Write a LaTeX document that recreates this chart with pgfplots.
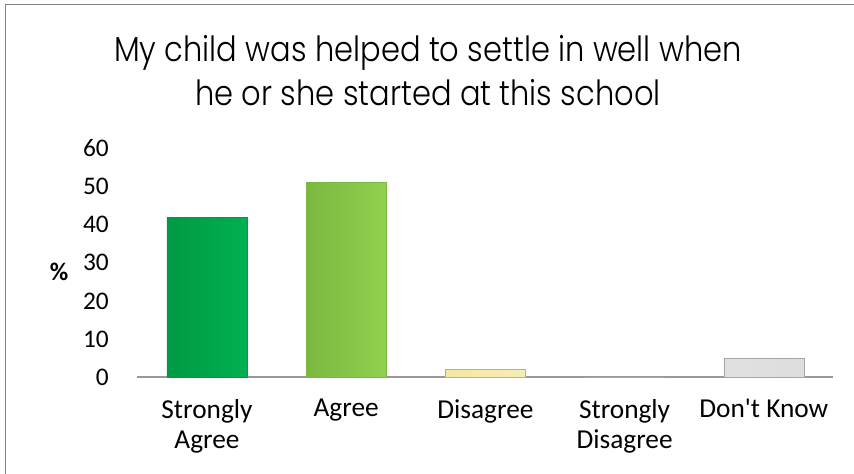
\documentclass[border=0pt]{standalone}
\usepackage{fontspec}
\setmainfont{Carlito}
\newfontfamily\titlefont{Poppins Light}[FakeStretch=0.88]
\usepackage{pgfplots}
\pgfplotsset{compat=1.18}

\definecolor{sagree}{HTML}{00B050}
\definecolor{sagreedk}{HTML}{009A44}
\definecolor{agree}{HTML}{92D050}
\definecolor{agreedk}{HTML}{7AB840}
\definecolor{disag}{HTML}{F3E8A2}
\definecolor{disagdk}{HTML}{C9B64A}
\definecolor{dk}{HTML}{DDDDDD}
\definecolor{dkdk}{HTML}{A6A6A6}

\begin{document}
\begin{tikzpicture}
% fixed page: 854 x 474 px at 0.75pt per px, axis box corner at (0,0)
\useasboundingbox (-103.05pt,-72.525pt) rectangle (537.45pt,282.975pt);
\draw[color=black!50, line width=1.1pt] (-98.9pt,-72.525pt) -- (-98.9pt,279.6pt) -- (537.45pt,279.6pt);
\begin{axis}[
  scale only axis,
  width=522pt, height=171.75pt,
  ybar, bar width=60pt, bar shift=0pt,
  xmin=-0.5, xmax=4.5,
  ymin=0, ymax=60,
  ytick={0,10,...,60},
  xtick={0,1,2,3,4},
  xticklabels={Strongly\\Agree, Agree, Disagree, Strongly\\Disagree, Don\textquotesingle t Know},
  /pgf/number format/assume math mode=true,
  x tick label style={align=center, font=\fontsize{20.5}{22.5}\selectfont, yshift=-13pt},
  y tick label style={font=\fontsize{19}{22}\selectfont, xshift=-18pt},
  major tick length=0pt,
  axis x line*=bottom,
  axis y line*=left,
  y axis line style={draw=none},
  x axis line style={draw=black!40, line width=1.2pt, -},
  ylabel={\textbf{\%}},
  ylabel style={rotate=-90, font=\fontsize{19}{22}\selectfont, at={(axis description cs:-0.1126,0.46)}, anchor=center},
  clip=false,
]
\addplot[draw=sagreedk, left color=sagreedk, right color=sagree] coordinates {(0,42)};
\addplot[draw=agreedk, left color=agreedk, right color=agree] coordinates {(1,51)};
\addplot[draw=disagdk, left color=disag, right color=disag!80!white] coordinates {(2,2)};
\addplot[draw=dkdk, left color=dk!80!black!30!white, right color=dk] coordinates {(3,0) (4,5)};
\end{axis}
\node[font=\titlefont\fontsize{26}{32}\selectfont, anchor=base] at (217.95pt,236.5pt) {My child was helped to settle in well when};
\node[font=\titlefont\fontsize{26}{32}\selectfont, anchor=base] at (217.95pt,203.5pt) {he or she started at this school};
\end{tikzpicture}
\end{document}
